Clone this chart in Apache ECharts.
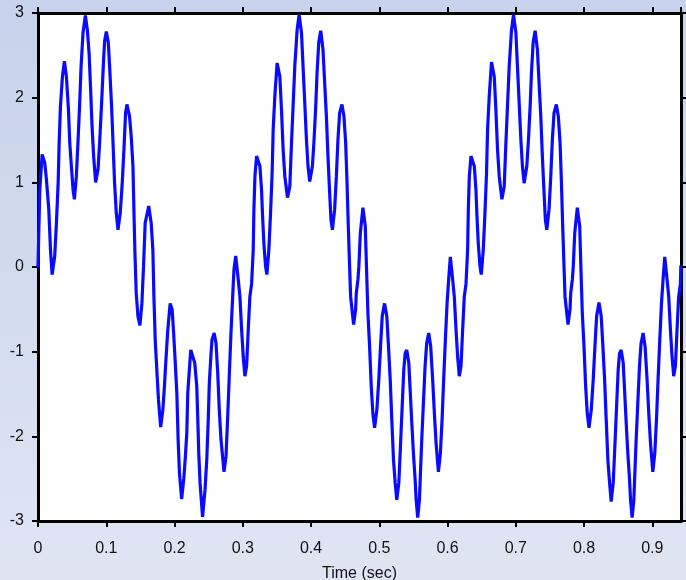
<!DOCTYPE html>
<html>
<head>
<meta charset="utf-8">
<script src="https://cdn.jsdelivr.net/npm/echarts@6/dist/echarts.min.js"></script>
<style>
html,body{margin:0;padding:0;}
#chart{width:686px;height:580px;}
</style>
</head>
<body>
<div id="chart"></div>
<script>
// Time (sec) and signal values
var timeSec = [
0.0000,0.0026,0.0061,0.0099,0.0124,0.0158,0.0183,0.0207,0.0245,0.0270,0.0295,0.0310,0.0329,0.0358,0.0387,0.0416,0.0446,0.0465,0.0489,0.0514,
0.0533,0.0562,0.0587,0.0611,0.0631,0.0660,0.0694,0.0723,0.0748,0.0771,0.0792,0.0815,0.0844,0.0879,0.0903,0.0932,0.0961,0.0976,0.1001,0.1030,
0.1049,0.1078,0.1099,0.1122,0.1147,0.1172,0.1205,0.1234,0.1259,0.1283,0.1303,0.1341,0.1366,0.1391,0.1405,0.1420,0.1439,0.1464,0.1493,0.1522,
0.1546,0.1570,0.1622,0.1658,0.1683,0.1698,0.1717,0.1746,0.1765,0.1797,0.1829,0.1852,0.1877,0.1902,0.1936,0.1965,0.1984,0.2009,0.2034,0.2053,
0.2072,0.2104,0.2136,0.2159,0.2180,0.2194,0.2218,0.2238,0.2264,0.2296,0.2326,0.2340,0.2355,0.2374,0.2411,0.2447,0.2472,0.2491,0.2510,0.2535,
0.2549,0.2581,0.2608,0.2633,0.2656,0.2681,0.2725,0.2754,0.2779,0.2802,0.2827,0.2852,0.2871,0.2897,0.2934,0.2958,0.2983,0.3007,0.3031,0.3056,
0.3080,0.3104,0.3129,0.3153,0.3163,0.3178,0.3202,0.3217,0.3251,0.3275,0.3290,0.3309,0.3334,0.3353,0.3382,0.3407,0.3430,0.3445,0.3470,0.3503,
0.3543,0.3567,0.3591,0.3616,0.3655,0.3689,0.3714,0.3737,0.3762,0.3796,0.3825,0.3860,0.3883,0.3908,0.3933,0.3956,0.3981,0.4020,0.4044,0.4069,
0.4088,0.4113,0.4142,0.4175,0.4200,0.4225,0.4248,0.4273,0.4292,0.4313,0.4346,0.4371,0.4394,0.4419,0.4453,0.4482,0.4507,0.4526,0.4546,0.4565,
0.4580,0.4605,0.4624,0.4653,0.4663,0.4687,0.4701,0.4722,0.4760,0.4795,0.4809,0.4824,0.4833,0.4858,0.4882,0.4906,0.4931,0.4964,0.4993,0.5018,
0.5043,0.5077,0.5110,0.5135,0.5160,0.5183,0.5208,0.5233,0.5256,0.5286,0.5310,0.5335,0.5359,0.5379,0.5402,0.5432,0.5452,0.5476,0.5500,0.5525,
0.5540,0.5563,0.5588,0.5603,0.5622,0.5646,0.5671,0.5694,0.5724,0.5753,0.5782,0.5807,0.5832,0.5866,0.5895,0.5920,0.5943,0.5968,0.5993,0.6016,
0.6041,0.6075,0.6099,0.6124,0.6148,0.6172,0.6197,0.6221,0.6245,0.6270,0.6294,0.6304,0.6319,0.6343,0.6358,0.6392,0.6416,0.6431,0.6450,0.6475,
0.6494,0.6523,0.6548,0.6571,0.6586,0.6611,0.6644,0.6684,0.6708,0.6732,0.6757,0.6796,0.6830,0.6855,0.6878,0.6903,0.6937,0.6966,0.7001,0.7024,
0.7049,0.7074,0.7097,0.7122,0.7161,0.7185,0.7210,0.7229,0.7254,0.7283,0.7316,0.7341,0.7366,0.7389,0.7414,0.7433,0.7454,0.7487,0.7512,0.7535,
0.7560,0.7594,0.7623,0.7648,0.7667,0.7687,0.7706,0.7721,0.7746,0.7765,0.7794,0.7804,0.7828,0.7842,0.7863,0.7901,0.7936,0.7950,0.7965,0.7974,
0.7999,0.8023,0.8047,0.8072,0.8105,0.8134,0.8159,0.8184,0.8218,0.8251,0.8276,0.8301,0.8324,0.8349,0.8374,0.8397,0.8427,0.8451,0.8476,0.8500,
0.8520,0.8543,0.8573,0.8593,0.8617,0.8641,0.8666,0.8681,0.8704,0.8729,0.8744,0.8763,0.8787,0.8812,0.8835,0.8865,0.8894,0.8923,0.8948,0.8973,
0.9007,0.9036,0.9061,0.9084,0.9109,0.9134,0.9157,0.9182,0.9216,0.9240,0.9265,0.9289,0.9313,0.9338,0.9362,0.9386,0.9411,0.9418
];
var signal = [
0.00,0.91,1.33,1.23,1.03,0.68,0.20,-0.09,0.13,0.52,0.99,1.47,1.90,2.25,2.43,2.25,1.86,1.47,1.19,0.91,
0.80,1.07,1.50,1.94,2.37,2.77,2.97,2.80,2.53,2.10,1.66,1.31,1.00,1.15,1.47,1.94,2.45,2.67,2.78,2.65,
2.37,1.90,1.47,0.99,0.64,0.44,0.64,0.99,1.39,1.82,1.92,1.78,1.54,1.19,0.68,0.17,-0.31,-0.58,-0.69,-0.43,
0.01,0.52,0.72,0.52,0.20,-0.35,-0.86,-1.29,-1.57,-1.89,-1.69,-1.41,-1.06,-0.74,-0.43,-0.50,-0.74,-1.10,-1.49,-2.04,
-2.43,-2.74,-2.50,-2.24,-1.96,-1.49,-1.21,-0.98,-0.97,-1.13,-1.41,-1.77,-2.20,-2.55,-2.95,-2.63,-2.28,-1.88,-1.37,-1.02,
-0.86,-0.78,-0.90,-1.25,-1.69,-2.04,-2.42,-2.24,-1.77,-1.29,-0.78,-0.35,-0.03,0.13,-0.15,-0.35,-0.74,-1.06,-1.29,-1.17,
-0.74,-0.35,-0.20,0.20,0.68,1.07,1.31,1.33,1.19,0.91,0.60,0.28,0.01,-0.09,0.20,0.64,1.11,1.62,2.02,2.41,
2.25,1.86,1.39,1.07,0.82,0.95,1.47,1.90,2.37,2.80,2.98,2.77,2.37,1.94,1.50,1.19,1.01,1.19,1.50,1.90,
2.29,2.65,2.79,2.57,2.17,1.78,1.31,0.87,0.56,0.44,0.68,1.07,1.50,1.82,1.92,1.78,1.47,1.03,0.48,0.01,
-0.35,-0.54,-0.68,-0.50,-0.31,-0.15,0.01,0.40,0.70,0.48,0.09,-0.31,-0.54,-0.94,-1.41,-1.73,-1.90,-1.69,-1.33,-0.94,
-0.58,-0.43,-0.58,-0.94,-1.33,-1.80,-2.28,-2.55,-2.75,-2.55,-2.12,-1.65,-1.21,-1.02,-0.98,-1.13,-1.45,-1.84,-2.20,-2.51,
-2.75,-2.96,-2.75,-2.43,-2.04,-1.61,-1.17,-0.90,-0.78,-0.94,-1.33,-1.73,-2.08,-2.42,-2.20,-1.80,-1.33,-0.86,-0.43,-0.15,
0.12,-0.15,-0.35,-0.74,-1.06,-1.29,-1.17,-0.74,-0.35,-0.20,0.20,0.68,1.07,1.31,1.33,1.19,0.91,0.60,0.28,0.01,
-0.09,0.20,0.64,1.11,1.62,2.02,2.42,2.25,1.86,1.39,1.07,0.80,0.95,1.47,1.90,2.37,2.80,2.98,2.77,2.37,
1.94,1.50,1.19,0.99,1.19,1.50,1.90,2.29,2.65,2.79,2.57,2.17,1.78,1.31,0.87,0.56,0.44,0.68,1.07,1.50,
1.82,1.92,1.78,1.47,1.03,0.48,0.01,-0.35,-0.54,-0.68,-0.50,-0.31,-0.15,0.01,0.40,0.70,0.48,0.09,-0.31,-0.54,
-0.94,-1.41,-1.73,-1.90,-1.69,-1.33,-0.94,-0.58,-0.42,-0.58,-0.94,-1.33,-1.80,-2.28,-2.55,-2.77,-2.55,-2.12,-1.65,-1.21,
-1.02,-0.98,-1.13,-1.45,-1.84,-2.20,-2.51,-2.75,-2.96,-2.75,-2.43,-2.04,-1.61,-1.17,-0.90,-0.78,-0.94,-1.33,-1.73,-2.08,
-2.42,-2.20,-1.80,-1.33,-0.86,-0.43,-0.15,0.12,-0.15,-0.35,-0.74,-1.06,-1.29,-1.17,-0.74,-0.35,-0.20,0.02
];
var xTickLabels = ['0','0.1','0.2','0.3','0.4','0.5','0.6','0.7','0.8','0.9'];
var yTickLabels = ['-3','-2','-1','0','1','2','3'];
var xAxisTitle = 'Time (sec)';

var points = timeSec.map(function (t, i) { return [t, signal[i]]; });

var fontFam = '"Liberation Sans", Arial, sans-serif';
var chart = echarts.init(document.getElementById('chart'), null, {renderer: 'canvas'});
var axisLineStyle = {color: '#000', width: 3};
var tickCommon = {show: true, inside: false, length: 6, lineStyle: {color: '#000', width: 2}};

function xLabel(v) {
  var idx = Math.round(v * 10);
  if (Math.abs(v * 10 - idx) > 1e-6) return '';
  return xTickLabels[idx] !== undefined ? xTickLabels[idx] : '';
}
function yLabel(v) {
  var idx = Math.round(v) + 3;
  return yTickLabels[idx] !== undefined ? yTickLabels[idx] : '';
}

chart.setOption({
  animation: false,
  backgroundColor: {
    type: 'linear', x: 0, y: 0, x2: 0, y2: 1,
    colorStops: [{offset: 0, color: '#c6d3ea'}, {offset: 1, color: '#dfe5f3'}]
  },
  grid: {
    left: 38, right: 5, top: 13, bottom: 59,
    outerBoundsMode: 'none', containLabel: false,
    show: true, backgroundColor: '#ffffff', borderWidth: 0
  },
  xAxis: [{
    type: 'value', position: 'bottom', min: 0, max: 0.942, interval: 0.1,
    axisLine: {show: true, onZero: false, lineStyle: axisLineStyle},
    axisTick: tickCommon,
    splitLine: {show: false},
    axisLabel: {show: true, showMaxLabel: false, margin: 20, color: '#111', fontSize: 16, fontFamily: fontFam, formatter: xLabel},
    name: xAxisTitle, nameLocation: 'middle', nameGap: 45,
    nameTextStyle: {color: '#111', fontSize: 16, fontFamily: fontFam}
  }, {
    type: 'value', position: 'top', min: 0, max: 0.942, interval: 0.1,
    axisLine: {show: true, onZero: false, lineStyle: axisLineStyle},
    axisTick: tickCommon,
    splitLine: {show: false},
    axisLabel: {show: false}
  }],
  yAxis: [{
    type: 'value', position: 'left', min: -3, max: 3, interval: 1,
    axisLine: {show: true, onZero: false, lineStyle: axisLineStyle},
    axisTick: tickCommon,
    splitLine: {show: false},
    axisLabel: {show: true, margin: 14, color: '#111', fontSize: 16, fontFamily: fontFam, formatter: yLabel}
  }, {
    type: 'value', position: 'right', min: -3, max: 3, interval: 1,
    axisLine: {show: true, onZero: false, lineStyle: axisLineStyle},
    axisTick: tickCommon,
    splitLine: {show: false},
    axisLabel: {show: false}
  }],
  series: [{
    type: 'line', xAxisIndex: 0, yAxisIndex: 0,
    data: points, showSymbol: false, smooth: false,
    lineStyle: {color: '#0a0aff', width: 3.2},
    clip: true
  }]
});
</script>
</body>
</html>
